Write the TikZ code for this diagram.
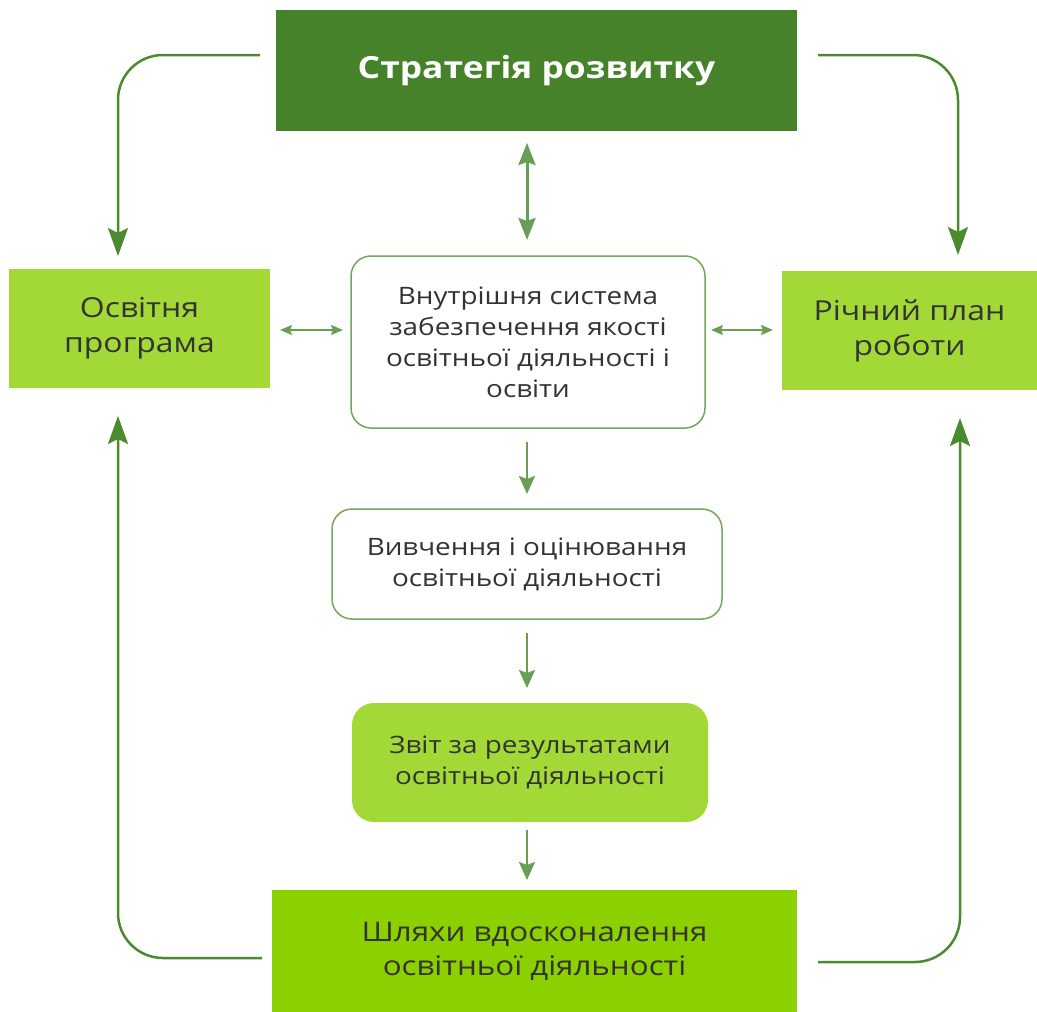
\documentclass[tikz,border=0pt]{standalone}
\usepackage{fontspec}
\setmainfont{Open Sans}[FakeStretch=1.16]
\usetikzlibrary{arrows.meta}
\definecolor{dkgreen}{HTML}{45822A}
\definecolor{ltgreen}{HTML}{A3D936}
\definecolor{btgreen}{HTML}{8CD000}
\definecolor{bordergreen}{HTML}{74A65E}
\definecolor{loopgreen}{HTML}{4B8A2F}
\definecolor{midgreen}{HTML}{6A9E55}
\definecolor{txt}{HTML}{333333}
\begin{document}
\begin{tikzpicture}[x=1pt,y=-1pt,
  box/.style={inner sep=0pt, align=center, text=txt},
  flatbox/.style={box, fill=ltgreen},
  whitebox/.style={box, draw=bordergreen, line width=1.5pt, rounded corners=20pt, fill=white},
  bigtext/.style={font=\fontsize{27.5}{35}\selectfont},
  midtext/.style={font=\fontsize{24}{31}\selectfont},
  loopline/.style={draw=loopgreen, line width=2.5pt, rounded corners=45pt, -{Stealth[width=20pt,length=28pt,inset=5pt]}},
  vdouble/.style={draw=midgreen, line width=3pt, {Stealth[width=17pt,length=22pt,inset=3pt]}-{Stealth[width=17pt,length=22pt,inset=3pt]}},
  hdouble/.style={draw=midgreen, line width=1.5pt, {Stealth[width=10pt,length=12pt,inset=2pt]}-{Stealth[width=10pt,length=12pt,inset=2pt]}},
  down/.style={draw=midgreen, line width=2.5pt, -{Stealth[width=16pt,length=18pt,inset=3pt]}}
]
\useasboundingbox (0,0) rectangle (1037,1012);
\node[box, fill=dkgreen, text=white, minimum width=521pt, minimum height=121pt, font=\bfseries\fontsize{30.5}{36}\selectfont] (top) at (536.5,70.5) {Стратегія розвитку};
\node[flatbox, bigtext, minimum width=261pt, minimum height=119pt] (left) at (139.5,328.5) {Освітня\\програма};
\node[flatbox, bigtext, minimum width=255pt, minimum height=119pt] (right) at (909.5,330.5) {Річний план\\роботи};
\node[whitebox, midtext, minimum width=354pt, minimum height=172pt] (sys) at (528,342) {Внутрішня система\\забезпечення якості\\освітньої діяльності і\\освіти};
\node[whitebox, midtext, minimum width=390pt, minimum height=110pt] (study) at (527,564) {Вивчення і оцінювання\\освітньої діяльності};
\node[box, midtext, fill=ltgreen, rounded corners=22pt, minimum width=356pt, minimum height=119pt] (rep) at (530,762.5) {Звіт за результатами\\освітньої діяльності};
\node[box, bigtext, fill=btgreen, minimum width=525pt, minimum height=122pt, font=\fontsize{27}{34}\selectfont] (path) at (534.5,951) {Шляхи вдосконалення\\освітньої діяльності};

\coordinate (tl) at (260,55);
\coordinate (tr) at (818,55);
\coordinate (bl) at (262,958);
\coordinate (br) at (818,962);
\coordinate (tla) at (118,256);
\coordinate (tra) at (958,255);
\coordinate (bla) at (118,416);
\coordinate (bra) at (960,418);

\draw[loopline] (tl) -| (tla);
\draw[loopline] (tr) -| (tra);
\draw[loopline] (bl) -| (bla);
\draw[loopline] (br) -| (bra);

\coordinate (v1a) at (527,143);
\coordinate (v1b) at (527,240);
\coordinate (h1a) at (280,330);
\coordinate (h1b) at (343,330);
\coordinate (h2a) at (711,330);
\coordinate (h2b) at (773,330);
\coordinate (d1a) at (527,442);
\coordinate (d1b) at (527,494);
\coordinate (d2a) at (527,633);
\coordinate (d2b) at (527,688);
\coordinate (d3a) at (527,830);
\coordinate (d3b) at (527,880);

\draw[vdouble] (v1a) -- (v1b);
\draw[hdouble] (h1a) -- (h1b);
\draw[hdouble] (h2a) -- (h2b);
\draw[down] (d1a) -- (d1b);
\draw[down] (d2a) -- (d2b);
\draw[down] (d3a) -- (d3b);
\end{tikzpicture}
\end{document}
